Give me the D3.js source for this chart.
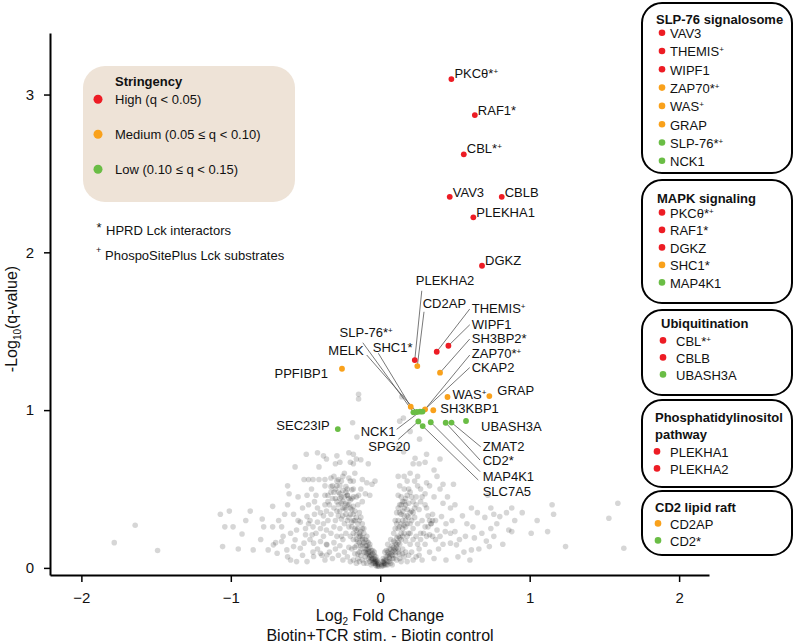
<!DOCTYPE html>
<html><head><meta charset="utf-8">
<script src="https://cdn.jsdelivr.net/npm/d3@7"></script>
<style>
body{margin:0;background:#fff}
svg{display:block;font-family:"Liberation Sans",Arial,Helvetica,sans-serif}
</style>
</head><body>
<svg id="chart" width="794" height="643"></svg>
<script>
// ---------------- DATA ----------------
const xTicks = [-2, -1, 0, 1, 2];
const yTicks = [0, 1, 2, 3];

const stringencyLabels = ["High (q < 0.05)", "Medium (0.05 \u2264 q < 0.10)", "Low (0.10 \u2264 q < 0.15)"];
const stringencyColors = ["#ed1c24", "#f9a11b", "#6abd45"];

// highlighted hits: name, log2 fold change, -log10 q, stringency level (0 high,1 medium,2 low)
const hitNames = ["PKC\u03b8*+","RAF1*","CBL*+","VAV3","CBLB","PLEKHA1","DGKZ","PLEKHA2","THEMIS+","WIPF1",
  "PPFIBP1","CD2AP","SH3BP2*","WAS+","GRAP","SHC1*","ZAP70*+","SH3KBP1",
  "SLP-76*+","MELK","NCK1","CKAP2","SPG20","SLC7A5","MAP4K1","CD2*","ZMAT2","UBASH3A","SEC23IP"];
const hitLog2FC = [0.476,0.633,0.559,0.465,0.813,0.623,0.681,0.231,0.378,0.456,
  -0.256,0.248,0.400,0.450,0.730,0.204,0.300,0.355,
  0.222,0.244,0.266,0.283,0.255,0.284,0.338,0.438,0.477,0.574,-0.284];
const hitNegLog10Q = [3.098,2.870,2.621,2.352,2.352,2.222,1.915,1.317,1.370,1.408,
  1.262,1.279,1.237,1.083,1.089,1.022,1.005,0.999,
  0.986,0.988,0.990,0.991,0.928,0.899,0.923,0.920,0.921,0.931,0.880];
const hitLevel = [0,0,0,0,0,0,0,0,0,0,
  1,1,1,1,1,1,1,1,
  2,2,2,2,2,2,2,2,2,2,2];

// all other quantified proteins [log2FC, -log10 q]
const backgroundPoints = [
 [-0.01,0.01],[-0.02,0.02],[-0.03,0.03],[-0.02,0.05],[-0.04,0.04],[-0.05,0.06],[-0.03,0.07],[-0.06,0.05],[-0.05,0.09],[-0.07,0.08],
 [-0.06,0.11],[-0.08,0.10],[-0.04,0.10],[-0.07,0.13],[-0.09,0.12],[-0.10,0.14],[-0.08,0.16],[-0.11,0.10],[-0.12,0.15],[-0.10,0.18],
 [-0.09,0.20],[-0.13,0.12],[-0.11,0.22],[-0.05,0.03],[-0.08,0.06],[-0.10,0.07],[-0.12,0.05],[-0.13,0.08],[-0.14,0.04],[-0.06,0.02],
 [-0.09,0.03],[-0.15,0.06],[-0.16,0.03],[-0.18,0.05],[-0.17,0.09],[-0.20,0.04],[-0.03,0.015],[-0.015,0.03],[-0.04,0.06],[-0.07,0.04],
 [-0.11,0.03],[-0.14,0.10],[-0.12,0.19],[-0.13,0.23],[-0.15,0.17],[-0.16,0.21],[-0.07,0.15],[-0.09,0.17],
 [-0.02,0.04],[-0.03,0.05],[-0.04,0.08],[-0.05,0.11],[-0.06,0.08],[-0.07,0.10],[-0.08,0.12],[-0.09,0.14],[-0.10,0.12],[-0.11,0.16],
 [-0.12,0.18],[-0.13,0.20],[-0.14,0.22],[-0.15,0.25],[-0.11,0.25],[-0.12,0.28],[-0.14,0.30],[-0.16,0.32],[-0.17,0.30],[-0.18,0.34],
 [-0.19,0.37],[-0.20,0.38],[-0.21,0.44],[-0.22,0.46],[-0.23,0.48],[-0.22,0.40],[-0.24,0.38],[-0.25,0.42],[-0.26,0.45],[-0.27,0.44],
 [-0.28,0.40],[-0.29,0.36],[-0.30,0.44],[-0.31,0.48],[-0.32,0.52],[-0.29,0.55],[-0.33,0.48],[-0.35,0.42],[-0.36,0.36],[-0.37,0.40],
 [-0.38,0.33],[-0.40,0.35],[-0.42,0.38],[-0.44,0.42],[-0.40,0.25],[-0.43,0.22],[-0.45,0.26],[-0.47,0.18],[-0.42,0.12],[-0.45,0.10],
 [-0.39,0.08],[-0.31,0.16],[-0.26,0.20],[-0.19,0.12],[-0.17,0.13],[-0.15,0.09],[-0.08,0.09],[-0.06,0.06],[-0.05,0.05],[-0.03,0.04],
 [-0.04,0.03],[-0.02,0.01],[-0.01,0.02],[-0.07,0.07],[-0.09,0.09],[-0.10,0.10],[-0.13,0.14],[-0.14,0.16],[-0.16,0.18],[-0.18,0.22],
 [-0.17,0.25],[-0.19,0.29],[-0.21,0.32],[-0.23,0.34],[-0.25,0.38],
 [-0.12,0.25],[-0.14,0.20],[-0.15,0.28],[-0.13,0.32],[-0.16,0.24],[-0.18,0.30],[-0.17,0.36],[-0.15,0.40],[-0.19,0.26],[-0.20,0.34],
 [-0.21,0.40],[-0.19,0.44],[-0.22,0.30],[-0.23,0.37],[-0.24,0.45],[-0.22,0.50],[-0.25,0.33],[-0.26,0.41],[-0.27,0.36],[-0.28,0.48],
 [-0.26,0.55],[-0.29,0.42],[-0.30,0.30],[-0.31,0.38],[-0.30,0.50],[-0.32,0.44],[-0.33,0.34],[-0.34,0.40],[-0.20,0.20],[-0.23,0.22],
 [-0.25,0.18],[-0.27,0.25],[-0.29,0.20],[-0.31,0.26],[-0.33,0.22],[-0.35,0.30],[-0.36,0.24],[-0.38,0.20],[-0.16,0.14],[-0.18,0.18],
 [-0.21,0.13],[-0.24,0.10],[-0.27,0.14],[-0.22,0.07],[-0.25,0.05],[-0.28,0.08],[-0.30,0.12],[-0.32,0.06],[-0.34,0.10],[-0.36,0.15],
 [-0.37,0.05],[-0.14,0.35],[-0.16,0.45],[-0.18,0.50],[-0.20,0.55],[-0.17,0.60],[-0.13,0.50],[-0.24,0.60],[-0.12,0.42],[-0.21,0.26],
 [-0.24,0.28],[-0.26,0.31],[-0.28,0.33],[-0.18,0.39],[-0.20,0.43],[-0.23,0.41],[-0.25,0.49],[-0.27,0.52],
 [-0.55,0.30],[-0.60,0.22],[-0.65,0.20],[-0.70,0.16],[-0.52,0.38],[-0.48,0.40],[-0.55,0.45],[-0.46,0.50],[-0.62,0.40],[-0.68,0.30],
 [-0.80,0.18],[-0.90,0.30],[-0.95,0.12],[-0.62,0.07],[-0.52,0.08],[-0.47,0.30],[-0.44,0.34],[-0.50,0.25],
 [-0.145,1.10],[-0.145,1.07],[-0.185,0.92],[-0.156,0.83],
 [-0.495,0.72],[-0.42,0.73],[-0.38,0.71],[-0.36,0.69],[-0.29,0.71],[-0.27,0.67],
 [-0.21,0.73],[-0.18,0.72],[-0.16,0.69],[-0.20,0.67],[-0.18,0.66],[-0.13,0.685],
 [-0.57,0.64],[-0.41,0.64],[-0.30,0.66],[-0.08,0.66],
 [-0.51,0.56],[-0.48,0.56],[-0.45,0.56],[-0.41,0.56],
 [-0.37,0.56],[-0.33,0.57],[-0.31,0.58],[-0.28,0.56],[-0.25,0.58],[-0.21,0.57],[-0.18,0.55],
 [-0.37,0.52],[-0.33,0.515],[-0.29,0.52],[-0.23,0.515],[-0.19,0.495],[-0.12,0.56],[-0.09,0.54],[-0.055,0.53],[-0.035,0.55],
 [-0.62,0.52],[-0.61,0.47],
 [-0.49,0.46],[-0.43,0.46],[-0.37,0.46],[-0.35,0.46],[-0.27,0.47],[-0.22,0.46],[-0.18,0.45],[-0.145,0.46],[-0.10,0.47],[-0.07,0.46],
 [-0.72,0.39],[-0.87,0.36],[-1.01,0.36],[-1.07,0.34],
 [-0.79,0.31],[-0.78,0.26],[-0.72,0.26],[-0.66,0.26],[-0.64,0.34],[-0.58,0.34],[-0.535,0.29],[-0.48,0.28],[-0.49,0.325],[-0.42,0.29],[-0.38,0.28],
 [-1.04,0.26],[-0.985,0.26],[-0.925,0.215],
 [-1.64,0.27],[-1.78,0.16],[-1.49,0.11],[-1.055,0.135],
 [-0.85,0.114],[-0.75,0.114],[-0.715,0.146],[-0.66,0.167],[-0.625,0.114],[-0.58,0.135],[-0.535,0.125],[-0.56,0.24],[-0.50,0.21],[-0.456,0.21],
 [-0.57,0.178],[-0.51,0.157],[-0.446,0.157],[-0.40,0.167],[-0.357,0.146],[-0.40,0.093],[-0.357,0.082],[-0.446,0.072],[-0.49,0.04],[-0.56,0.04],
 [-0.60,0.05],[-0.69,0.093],
 [0.01,0.01],[0.02,0.03],[0.03,0.02],[0.02,0.06],[0.04,0.05],[0.05,0.08],[0.03,0.10],[0.06,0.04],[0.06,0.12],[0.07,0.09],
 [0.08,0.14],[0.05,0.15],[0.09,0.11],[0.08,0.06],[0.10,0.08],[0.10,0.16],[0.07,0.18],[0.11,0.13],[0.12,0.20],[0.09,0.22],
 [0.04,0.02],[0.07,0.03],[0.11,0.05],[0.13,0.09],[0.14,0.04],[0.12,0.10],[0.15,0.12],[0.16,0.07],[0.18,0.04],[0.02,0.015],
 [0.015,0.04],[0.05,0.04],[0.08,0.02],[0.09,0.17],[0.11,0.19],[0.13,0.15],[0.06,0.07],[0.04,0.11],
 [0.02,0.04],[0.03,0.05],[0.04,0.07],[0.05,0.10],[0.06,0.09],[0.07,0.12],[0.08,0.10],[0.09,0.13],[0.10,0.12],[0.11,0.15],
 [0.12,0.16],[0.13,0.19],[0.14,0.22],[0.15,0.25],[0.16,0.27],[0.17,0.30],[0.18,0.28],[0.19,0.32],[0.20,0.35],[0.17,0.40],
 [0.18,0.46],[0.19,0.50],[0.21,0.45],[0.20,0.28],[0.21,0.30],[0.22,0.35],[0.23,0.38],[0.24,0.40],[0.15,0.36],[0.14,0.40],
 [0.16,0.42],[0.13,0.35],[0.12,0.25],[0.11,0.28],[0.14,0.18],[0.16,0.22],[0.18,0.20],[0.20,0.22],[0.22,0.18],[0.25,0.15],
 [0.27,0.18],[0.29,0.22],[0.31,0.20],[0.32,0.26],[0.33,0.30],[0.35,0.34],[0.37,0.30],[0.38,0.24],[0.40,0.20],[0.42,0.15],
 [0.39,0.12],[0.05,0.02],[0.03,0.03],[0.01,0.02],[0.06,0.06],[0.08,0.08],[0.10,0.10],[0.09,0.06],[0.12,0.12],[0.13,0.06],
 [0.15,0.09],[0.17,0.10],[0.19,0.08],[0.22,0.05],[0.26,0.08],
 [0.10,0.25],[0.12,0.30],[0.13,0.26],[0.11,0.35],[0.14,0.34],[0.13,0.40],[0.15,0.30],[0.16,0.38],[0.14,0.45],[0.17,0.44],
 [0.16,0.50],[0.18,0.33],[0.19,0.41],[0.17,0.26],[0.20,0.48],[0.18,0.55],[0.21,0.36],[0.22,0.42],[0.15,0.20],[0.17,0.17],
 [0.19,0.22],[0.20,0.15],[0.22,0.25],[0.23,0.32],[0.24,0.20],[0.25,0.28],[0.26,0.37],[0.24,0.45],[0.27,0.22],[0.28,0.30],
 [0.30,0.26],[0.30,0.40],[0.32,0.33],[0.21,0.10],[0.24,0.07],[0.26,0.12],[0.28,0.05],[0.30,0.15],[0.33,0.10],[0.35,0.20],
 [0.36,0.06],[0.34,0.28],[0.20,0.60],[0.16,0.58],[0.22,0.66],[0.13,0.52],[0.12,0.46],[0.25,0.52],[0.28,0.45],[0.10,0.30],
 [0.14,0.28],[0.16,0.33],[0.18,0.37],[0.12,0.38],[0.15,0.42],
 [0.45,0.45],[0.50,0.40],[0.55,0.33],[0.58,0.28],[0.63,0.19],[0.66,0.12],[0.50,0.23],[0.53,0.18],[0.56,0.10],[0.60,0.05],
 [0.48,0.30],[0.65,0.35],[0.70,0.32],[0.78,0.28],[0.82,0.15],[0.90,0.30],[0.95,0.35],[1.05,0.30],
 [0.263,0.816],[0.31,0.72],[0.40,0.69],[0.12,0.76],[0.144,1.085],[0.13,0.93],[0.155,0.95],[0.20,0.865],
 [0.156,0.736],[0.233,0.695],[0.30,0.67],[0.36,0.62],[0.26,0.66],
 [0.12,0.58],[0.25,0.58],[0.31,0.54],[0.38,0.58],[0.42,0.53],[0.49,0.53],
 [0.27,0.50],[0.33,0.52],[0.36,0.45],[0.23,0.55],[0.40,0.50],
 [0.51,0.146],[0.62,0.26],[0.74,0.25],[0.76,0.20],[0.68,0.22],[0.57,0.20],[0.88,0.38],[0.72,0.46],[0.80,0.325],[0.61,0.38],
 [0.47,0.38],[0.41,0.325],[0.435,0.23],[0.33,0.21],[0.35,0.30],[0.31,0.38],[0.30,0.47],[0.27,0.42],
 [1.59,0.41],[1.53,0.315],[1.24,0.135],[1.63,0.125],
 [1.15,0.40],[1.16,0.34],[1.12,0.23],[1.01,0.22],[0.86,0.24],[0.88,0.23],[0.74,0.38],[0.76,0.34],[0.845,0.35],[0.71,0.17],
 [0.73,0.135],[0.61,0.114],[0.47,0.22],[0.47,0.157],[0.42,0.41],[0.44,0.28],[0.34,0.28],[0.37,0.18],[0.52,0.07],[0.44,0.05]
];

// functional panels
const panelTitles = [["SLP-76 signalosome"], ["MAPK signaling"], ["Ubiquitination"], ["Phosphatidylinositol", "pathway"], ["CD2 lipid raft"]];
const panelGenes = [
  ["VAV3","THEMIS+","WIPF1","ZAP70*+","WAS+","GRAP","SLP-76*+","NCK1"],
  ["PKC\u03b8*+","RAF1*","DGKZ","SHC1*","MAP4K1"],
  ["CBL*+","CBLB","UBASH3A"],
  ["PLEKHA1","PLEKHA2"],
  ["CD2AP","CD2*"]
];
const panelLevels = [[0,0,0,1,1,1,2,2],[0,0,0,1,2],[0,0,2],[0,0],[1,2]];

// ---------------- LAYOUT ----------------
// label placement (pixel offsets from the point): text dx,dy, anchor, optional leader start lx,ly
const labelLayout = {
  "PKC\u03b8*+":{dx:3,dy:-1}, "RAF1*":{dx:3,dy:0}, "CBL*+":{dx:3,dy:-1}, "VAV3":{dx:3,dy:0}, "CBLB":{dx:3,dy:0},
  "PLEKHA1":{dx:3,dy:0}, "DGKZ":{dx:3,dy:-1},
  "WAS+":{dx:5,dy:2}, "GRAP":{dx:8,dy:-1}, "SH3KBP1":{dx:7,dy:3}, "UBASH3A":{dx:15,dy:10},
  "PPFIBP1":{dx:-14,dy:9,anchor:"end"}, "SEC23IP":{dx:-8,dy:1,anchor:"end"},
  "PLEKHA2":{dx:1,dy:-74.7,lx:7,ly:-69.3},
  "CD2AP":{dx:5.4,dy:-58,lx:6.7,ly:-54.3},
  "THEMIS+":{dx:35,dy:-38.7,lx:33,ly:-42.7},
  "WIPF1":{dx:23.4,dy:-17,lx:21.4,ly:-21},
  "SH3BP2*":{dx:31.7,dy:-29.7,lx:29.7,ly:-33.7},
  "ZAP70*+":{dx:46.7,dy:-51,lx:44.7,ly:-54.3},
  "CKAP2":{dx:49.2,dy:-39.5,lx:47.2,ly:-44},
  "SLP-76*+":{dx:-73.8,dy:-75.3,lx:-50.6,ly:-69.6},
  "MELK":{dx:-88.4,dy:-56.6,lx:-50,ly:-57},
  "SHC1*":{dx:-38,dy:-54.8,lx:-32.4,ly:-53.4},
  "NCK1":{dx:-59.3,dy:24.7,lx:-23.3,ly:17.6},
  "SPG20":{dx:-50,dy:29.9,lx:-20,ly:17.8},
  "ZMAT2":{dx:31.2,dy:28.2,lx:29.2,ly:24.2},
  "CD2*":{dx:37,dy:42,lx:34.3,ly:37.3},
  "MAP4K1":{dx:52,dy:59.1,lx:49.3,ly:49.4},
  "SLC7A5":{dx:60,dy:69.7,lx:55.6,ly:54}
};
const panelLayout = [
  {y:3,h:170,tx:656,ty:23.5,dotX:662,textX:670,rowY:38,step:18.3},
  {y:180,h:123,tx:657,ty:203,dotX:662,textX:670,rowY:217.7,step:17.5},
  {y:310,h:85,tx:661,ty:328,dotX:663,textX:676,rowY:345.7,step:17},
  {y:400,h:87,tx:655,ty:422,dotX:657,textX:670,rowY:456.7,step:17},
  {y:491,h:64,tx:655,ty:512,dotX:658,textX:670,rowY:528.7,step:17}
];

// ---------------- DRAW ----------------
const svg = d3.select("#chart");
const FONT = 13;

const x = d3.scaleLinear().domain([-2.21, 2.2]).range([50, 709]);
const y = d3.scaleLinear().domain([-0.045, 3.39]).range([575, 33]);

function richText(sel, text, px, py, anchor, size, weight) {
  const t = sel.append("text").attr("x", px).attr("y", py)
    .attr("text-anchor", anchor || "start").style("font-size", size + "px")
    .style("font-weight", weight || "normal").attr("fill", "#111");
  const m = text.match(/^(.*?)([*+]*)$/);
  t.append("tspan").text(m[1]);
  let raised = false;
  for (const ch of m[2]) {
    if (ch === "+") {
      t.append("tspan").attr("dy", raised ? 0 : -4).style("font-size", (size * 0.62) + "px").text("+");
      raised = true;
    } else {
      t.append("tspan").attr("dy", raised ? 4 : 0).text("*");
      raised = false;
    }
  }
  return t;
}

// axes
const xAxis = svg.append("g").attr("transform", "translate(0,575)")
  .call(d3.axisBottom(x).tickValues(xTicks).tickSize(7).tickSizeOuter(0).tickPadding(10).tickFormat(d3.format("d")));
const yAxis = svg.append("g").attr("transform", "translate(50,0)")
  .call(d3.axisLeft(y).tickValues(yTicks).tickSize(6).tickSizeOuter(0).tickPadding(10).tickFormat(d3.format("d")));
[xAxis, yAxis].forEach(a => {
  a.select(".domain").attr("stroke", "#000").attr("stroke-width", 2);
  a.selectAll(".tick line").attr("stroke", "#000").attr("stroke-width", 1.5);
  a.selectAll(".tick text").attr("fill", "#111").style("font-size", "15px")
    .style("font-family", "'Liberation Sans',Arial,sans-serif");
});

// axis titles
const xt = svg.append("text").attr("x", 380).attr("y", 621).attr("text-anchor", "middle").style("font-size", "16px").attr("fill", "#111");
xt.append("tspan").text("Log");
xt.append("tspan").attr("dy", 4).style("font-size", "10px").text("2");
xt.append("tspan").attr("dy", -4).text(" Fold Change");
svg.append("text").attr("x", 380).attr("y", 641).attr("text-anchor", "middle").style("font-size", "16px").attr("fill", "#111")
  .text("Biotin+TCR stim. - Biotin control");
const yt = svg.append("text").attr("transform", "translate(17,319) rotate(-90)").attr("text-anchor", "middle")
  .style("font-size", "16px").attr("fill", "#111");
yt.append("tspan").text("-Log");
yt.append("tspan").attr("dy", 4).style("font-size", "10px").text("10");
yt.append("tspan").attr("dy", -4).text("(q-value)");

// background points
svg.append("g").selectAll("circle").data(backgroundPoints).join("circle")
  .attr("cx", d => x(d[0])).attr("cy", d => y(d[1])).attr("r", 2.8)
  .attr("fill", "#000").attr("fill-opacity", 0.16);

// hits
const hits = hitNames.map((n, i) => ({name: n, fc: hitLog2FC[i], q: hitNegLog10Q[i], level: hitLevel[i]}));

// leader lines
svg.append("g").selectAll("line").data(hits.filter(d => labelLayout[d.name] && labelLayout[d.name].lx !== undefined)).join("line")
  .attr("x1", d => x(d.fc) + labelLayout[d.name].lx).attr("y1", d => y(d.q) + labelLayout[d.name].ly)
  .attr("x2", d => x(d.fc)).attr("y2", d => y(d.q))
  .attr("stroke", "#555").attr("stroke-width", 0.8);

svg.append("g").selectAll("circle").data(hits).join("circle")
  .attr("cx", d => x(d.fc)).attr("cy", d => y(d.q)).attr("r", 2.9)
  .attr("fill", d => stringencyColors[d.level]);

const labG = svg.append("g");
hits.forEach(d => {
  const L = labelLayout[d.name];
  if (!L) return;
  richText(labG, d.name, x(d.fc) + L.dx, y(d.q) + L.dy, L.anchor || "start", FONT);
});

// stringency legend
const lg = svg.append("g");
lg.append("rect").attr("x", 83).attr("y", 66).attr("width", 212).attr("height", 136).attr("rx", 22)
  .attr("fill", "#eee3d7");
lg.append("text").attr("x", 115).attr("y", 86).style("font-size", "13px").style("font-weight", "bold")
  .attr("fill", "#111").text("Stringency");
stringencyLabels.forEach((s, i) => {
  lg.append("circle").attr("cx", 98).attr("cy", 99.3 + i * 35).attr("r", 4.5).attr("fill", stringencyColors[i]);
  lg.append("text").attr("x", 115).attr("y", 104 + i * 35).style("font-size", "13px").attr("fill", "#111").text(s);
});
svg.append("text").attr("x", 96.5).attr("y", 232).style("font-size", "13px").attr("fill", "#111").text("*");
svg.append("text").attr("x", 106).attr("y", 235).style("font-size", "13px").attr("fill", "#111").text("HPRD Lck interactors");
svg.append("text").attr("x", 96).attr("y", 252.5).style("font-size", "9px").attr("fill", "#111").text("+");
svg.append("text").attr("x", 105).attr("y", 260).style("font-size", "13px").attr("fill", "#111").text("PhospoSitePlus Lck substrates");

// panels
panelTitles.forEach((title, p) => {
  const P = panelLayout[p];
  const g = svg.append("g");
  g.append("rect").attr("x", 642).attr("y", P.y).attr("width", 150).attr("height", P.h).attr("rx", 20)
    .attr("fill", "#fff").attr("stroke", "#000").attr("stroke-width", 2);
  title.forEach((line, k) => {
    g.append("text").attr("x", P.tx).attr("y", P.ty + k * 17).style("font-size", "13px")
      .style("font-weight", "bold").attr("fill", "#111").text(line);
  });
  panelGenes[p].forEach((gene, i) => {
    const by = P.rowY + i * P.step;
    g.append("circle").attr("cx", P.dotX).attr("cy", by - 5.3).attr("r", 3.3).attr("fill", stringencyColors[panelLevels[p][i]]);
    richText(g, gene, P.textX, by, "start", 13);
  });
});
</script>
</body></html>
